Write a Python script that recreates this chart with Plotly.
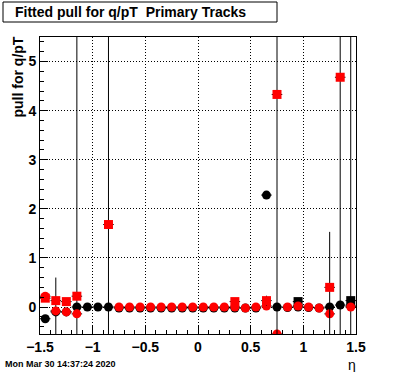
import plotly.graph_objects as go

eta = [-1.45, -1.35, -1.25, -1.15, -1.05, -0.95, -0.85, -0.75, -0.65, -0.55,
       -0.45, -0.35, -0.25, -0.15, -0.05, 0.05, 0.15, 0.25, 0.35, 0.45,
       0.55, 0.65, 0.75, 0.85, 0.95, 1.05, 1.15, 1.25, 1.35, 1.45]

black_circ = [-0.24, -0.10, -0.10, 0.0, 0.0, 0.0, 0.0, -0.02, -0.02, -0.02,
              -0.02, -0.02, -0.02, -0.02, -0.02, -0.02, -0.02, -0.02, -0.02, -0.02,
              -0.02, 2.28, 0.0, -0.01, 0.0, -0.01, -0.02, 0.0, 0.04, 0.02]
black_circ_err = [0.05, 0.70, 0.03, 0.02, 0.02, 0.02, 0.02, 0.02, 0.02, 0.02,
                  0.02, 0.02, 0.02, 0.02, 0.02, 0.02, 0.02, 0.02, 0.02, 0.02,
                  0.02, 0.03, 0.02, 0.02, 0.02, 0.02, 0.02, 0.02, 0.03, 0.02]

black_sq = [None] * 24 + [0.11, None, None, None, None, 0.13]
black_sq_err = [0] * 24 + [0.05, 0, 0, 0, 0, 20.0]

red_circ = [0.22, -0.08, -0.10, -0.14, None, None, None, 0.0, 0.0, 0.0,
            0.0, 0.0, 0.0, 0.0, 0.0, 0.0, 0.0, 0.0, 0.0, -0.02,
            0.0, 0.02, -0.55, 0.0, 0.02, 0.0, -0.02, -0.14, None, 0.0]
red_circ_err = [0.04, 0.03, 0.03, 20.0, 0, 0, 0, 0.02, 0.02, 0.02,
                0.02, 0.02, 0.02, 0.02, 0.02, 0.02, 0.02, 0.02, 0.02, 0.02,
                0.02, 0.03, 0.03, 0.02, 0.02, 0.02, 0.02, 0.03, 0, 0.02]

red_sq = [0.18, 0.13, 0.11, 0.22, None, None, 1.68, None, None, None,
          None, None, None, None, None, None, None, None, 0.11, None,
          None, 0.13, 4.33, None, None, None, None, 0.40, 4.68, None]
red_sq_err = [0.05, 0.04, 0.04, 0.05, 0, 0, 20.0, 0, 0, 0,
              0, 0, 0, 0, 0, 0, 0, 0, 0.07, 0,
              0, 0.10, 20.0, 0, 0, 0, 0, 1.13, 20.0, 0]

bin_half = 0.05

def series(y, err, color, symbol):
    return go.Scatter(
        x=eta, y=y, mode="markers",
        marker=dict(color=color, symbol=symbol, size=9, line=dict(width=0)),
        error_x=dict(type="constant", value=bin_half, color="black", thickness=1, width=0),
        error_y=dict(type="data", array=err, color="black", thickness=1, width=0),
        showlegend=False, cliponaxis=True,
    )

fig = go.Figure()
fig.add_trace(series(black_circ, black_circ_err, "black", "circle"))
fig.add_trace(series(black_sq, black_sq_err, "black", "square"))
fig.add_trace(series(red_circ, red_circ_err, "red", "circle"))
fig.add_trace(series(red_sq, red_sq_err, "red", "square"))

L, R, T, B = 40, 40, 37, 38
W, H = 396, 372
pw, ph = W - L - R, H - T - B

def px(x):
    return (x - L) / pw

def py(y):
    return (H - B - y) / ph

tickfont = dict(family="Liberation Sans", size=14, color="black", weight="bold")
griddash = "1px,2px"

fig.update_layout(
    width=W, height=H,
    margin=dict(l=L, r=R, t=T, b=B, pad=0),
    paper_bgcolor="white", plot_bgcolor="white",
    xaxis=dict(range=[-1.5, 1.5], tick0=-1.5, dtick=0.5, ticks="inside", ticklen=8,
               tickcolor="black", showline=True, linecolor="black", linewidth=1, mirror=True,
               showgrid=True, gridcolor="black", griddash=griddash, gridwidth=1,
               zeroline=False, tickfont=tickfont,
               minor=dict(dtick=0.1, tick0=-1.5, ticks="inside", ticklen=4, tickcolor="black", showgrid=False)),
    yaxis=dict(range=[-0.55, 5.5], tick0=0, dtick=1, ticks="inside", ticklen=8,
               tickcolor="black", showline=True, linecolor="black", linewidth=1, mirror=True,
               showgrid=True, gridcolor="black", griddash=griddash, gridwidth=1,
               zeroline=False, tickfont=tickfont,
               minor=dict(dtick=0.2, tick0=0, ticks="inside", ticklen=4, tickcolor="black", showgrid=False)),
    shapes=[dict(type="rect", xref="paper", yref="paper",
                 x0=px(3), x1=px(277), y0=py(22), y1=py(2),
                 line=dict(color="black", width=1), fillcolor="white", layer="above")],
    annotations=[
        dict(text="Fitted pull for q/pT  Primary Tracks", xref="paper", yref="paper",
             x=px(13), y=py(12), xanchor="left", yanchor="middle", showarrow=False,
             font=dict(family="Liberation Sans", size=14, color="black", weight="bold")),
        dict(text="pull for q/pT", xref="paper", yref="paper", textangle=-90,
             x=px(17), y=py(35), xanchor="center", yanchor="top", showarrow=False,
             font=dict(family="Liberation Sans", size=14, color="black", weight="bold")),
        dict(text="η", xref="paper", yref="paper",
             x=px(352), y=py(365), xanchor="center", yanchor="middle", showarrow=False,
             font=dict(family="Liberation Sans", size=14, color="black")),
        dict(text="Mon Mar 30 14:37:24 2020", xref="paper", yref="paper",
             x=px(3), y=py(364), xanchor="left", yanchor="middle", showarrow=False,
             font=dict(family="Liberation Sans", size=9, color="black", weight="bold")),
    ],
)

fig.write_html("out.html", config={"displayModeBar": False},
               post_script="document.body.style.margin='0';document.body.style.overflow='hidden';")
